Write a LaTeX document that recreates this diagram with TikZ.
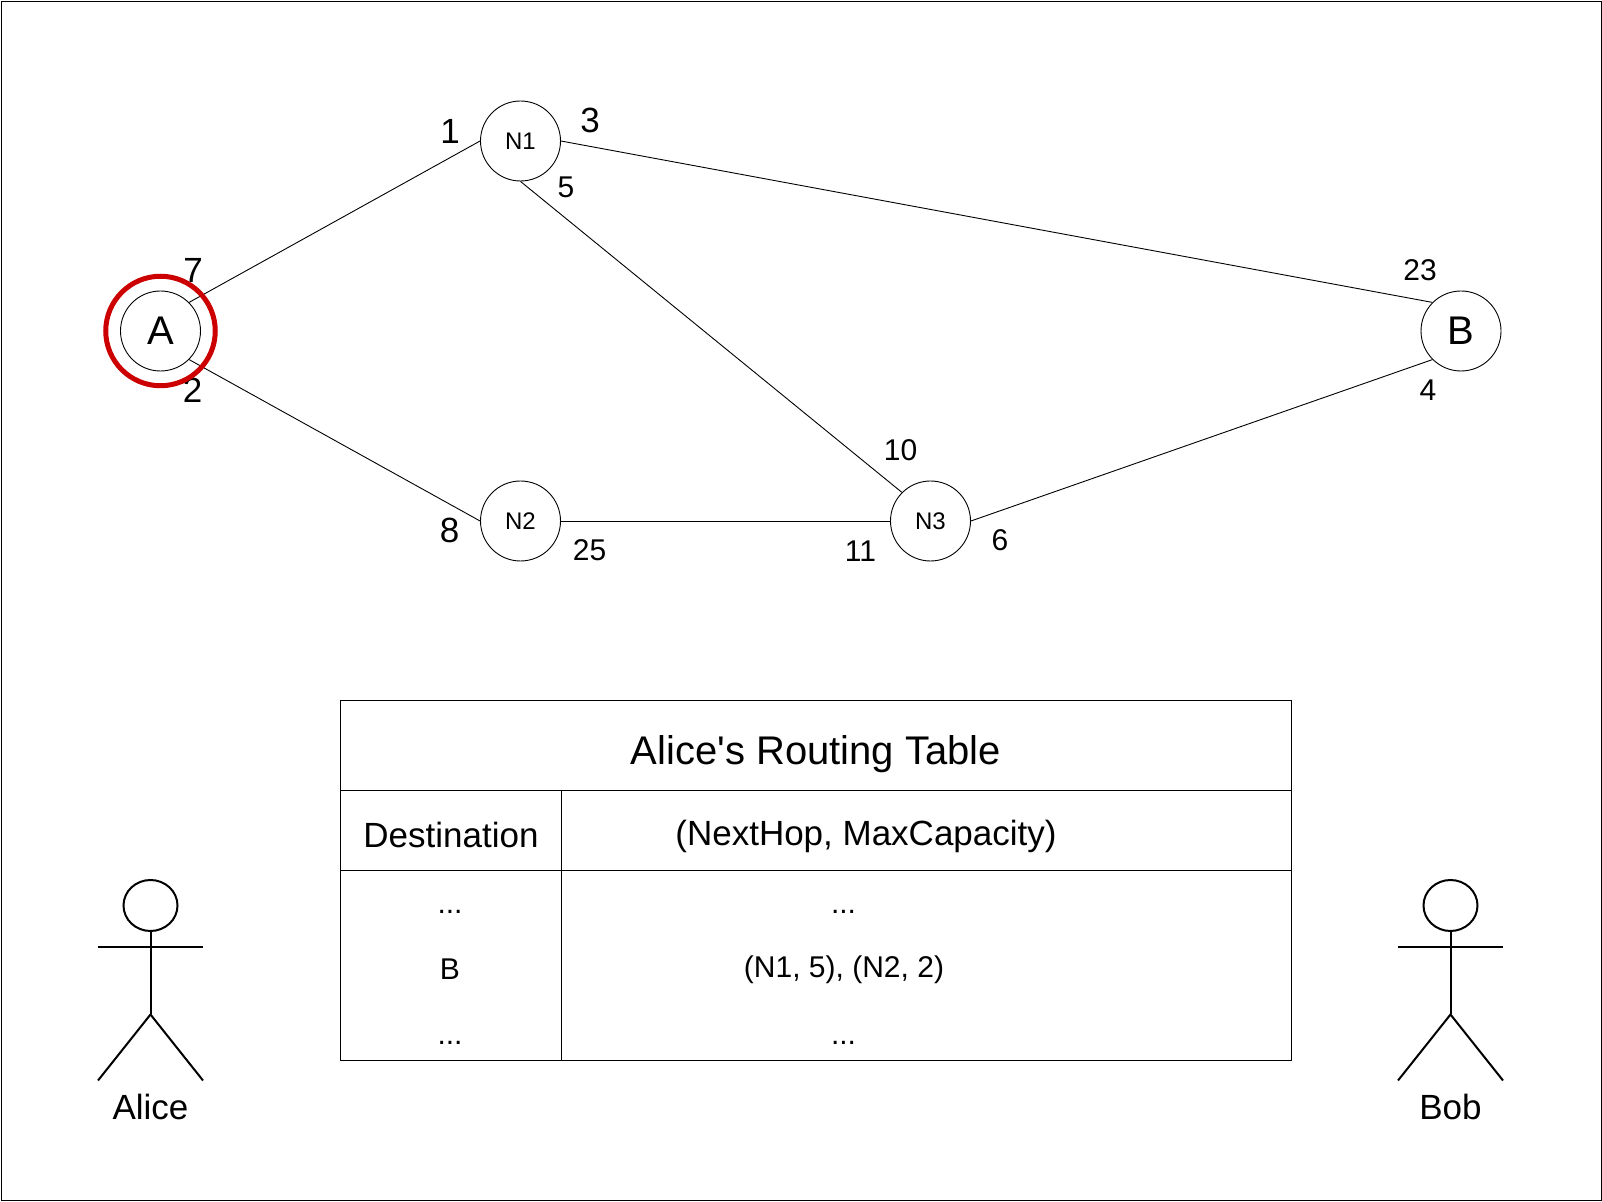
\documentclass[tikz,border=0pt]{standalone}
\usepackage{fontspec}
\setmainfont{Liberation Sans}
\usetikzlibrary{calc}

\begin{document}
\begin{tikzpicture}[x=0.5pt, y=-0.5pt, line width=0.45pt]
	\def\tableL{340.5}
	\def\tableR{1291}
	\tikzset	{
		actor/.pic={
			code={
				\draw[line width=1pt]	(0,0) ellipse [x radius=27, y radius=25.5];
				\draw[line width=1pt]	(0,25.5) -- (0,109);
				\draw[line width=1pt]	(-52.5,42) -- (52.5,42);
				\draw[line width=1pt]	(-52.5,175) -- (0,109) -- (52.5,175);
			}
		},
		bignode/.style={draw, circle, minimum size=40pt, inner sep=0pt, font=\fontsize{20}{24}\selectfont},
		hopnode/.style={draw, circle, minimum size=40pt, inner sep=0pt, font=\fontsize{12}{14}\selectfont},
		ringnode/.style={draw=red!80!black, circle, minimum size=54.75pt, line width=2.5pt, inner sep=0pt},
		biglabel/.style={inner sep=0pt, font=\fontsize{17.5}{21}\selectfont},
		smalllabel/.style={inner sep=0pt, font=\fontsize{15}{18}\selectfont},
		titlelabel/.style={inner sep=0pt, font=\fontsize{20}{24}\selectfont},
	}

	\useasboundingbox (0,0) rectangle (1602,1202);
	\draw[]	(1,1) rectangle (1601,1200);

	\node[bignode] (A) at (160.5,331) {A};
	\node[hopnode] (N1) at (520.5,141) {N1};
	\node[hopnode] (N2) at (520.5,521) {N2};
	\node[hopnode] (N3) at (930.5,521) {N3};
	\node[bignode] (B) at (1461,331) {B};

	\draw[]	(A.45) -- (N1.west);
	\draw[]	(A.-45) -- (N2.west);
	\draw[]	(N1.east) -- (B.135);
	\draw[]	(N1.south) -- (N3.135);
	\draw[]	(N2.east) -- (N3.west);
	\draw[]	(N3.east) -- (B.225);

	\node[biglabel] (capA1) at (450,131) {1};
	\node[biglabel] (capA2) at (192.5,390) {2};
	\node[biglabel] (capN1a) at (590,120) {3};
	\node[biglabel] (capA7) at (193,270) {7};
	\node[biglabel] (capN2a) at (449.5,530) {8};
	\node[smalllabel] (capN1b) at (566,187) {5};
	\node[smalllabel] (capN2b) at (589.5,550) {25};
	\node[smalllabel] (capBa) at (1420,270) {23};
	\node[smalllabel] (capBb) at (1428,390.5) {4};
	\node[smalllabel] (capN3a) at (900.5,450) {10};
	\node[smalllabel] (capN3b) at (860.5,551) {11};
	\node[smalllabel] (capN3c) at (1000,540) {6};

	\node[ringnode] (ring) at (A) {};

	\draw[line width=0.5pt]	(\tableL,700.5) rectangle (\tableR,1060);
	\draw[line width=0.5pt]	(\tableL,790.5) -- (\tableR,790.5);
	\draw[line width=0.5pt]	(\tableL,870.5) -- (\tableR,870.5);
	\draw[line width=0.35pt]	(561.5,790.5) -- (561.5,870.5);
	\draw[line width=0.5pt]	(561,870.5) -- (561,1060);

	\node[titlelabel] (title) at (816,754) {Alice\textquotesingle s Routing Table};
	\node[biglabel] (dest) at (451,835) {Destination};
	\node[biglabel] (hop) at (866,836) {(NextHop, MaxCapacity)};
	\node[smalllabel, anchor=base] (dotsA) at (450,914) {...};
	\node[smalllabel, anchor=base] (dotsB) at (843.5,914) {...};
	\node[smalllabel] (destB) at (450,969) {B};
	\node[smalllabel] (hopB) at (844,970) {(N1, 5), (N2, 2)};
	\node[smalllabel, anchor=base] (dotsC) at (450,1044) {...};
	\node[smalllabel, anchor=base] (dotsD) at (843.5,1044) {...};

	\pic[] at (150.5,905.5) {actor};
	\pic[] at (1450.5,905.5) {actor};
	\node[biglabel] (alice) at (150.5,1107) {Alice};
	\node[biglabel] (bob) at (1450.5,1107) {Bob};
\end{tikzpicture}
\end{document}
